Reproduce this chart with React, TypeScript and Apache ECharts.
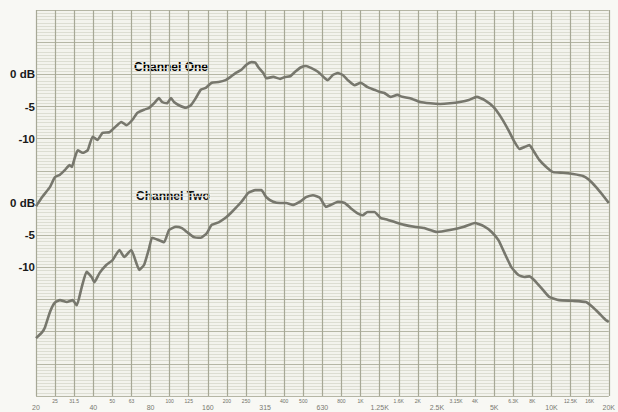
import React, { useEffect, useRef } from 'react';
import * as echarts from 'echarts';

// 1/3-octave band labels (20 Hz .. 20 kHz)
const bandLabels = ['20', '25', '31.5', '40', '50', '63', '80', '100', '125', '160', '200', '250', '315', '400', '500', '630', '800', '1K', '1.25K', '1.6K', '2K', '2.5K', '3.15K', '4K', '5K', '6.3K', '8K', '10K', '12.5K', '16K', '20K'];

// y-axis label positions (chart dB) and texts
const yLabelValues = [0, -5, -10, -20, -25, -30];
const yLabelTexts = ['0 dB', '-5', '-10', '0 dB', '-5', '-10'];

// Channel One: frequency (Hz) and level (dB)
const ch1Freq = [20, 21.5, 23.7, 25.1, 26.7, 28.3, 30.0, 30.8, 31.9, 33.1, 35.1, 37.3, 39.6, 42.0, 44.6, 48.5, 51.5, 56.0, 59.5, 63.9, 67.8, 73.7, 78.3, 83.1, 88.2, 91.5, 97.1, 101.9, 105.6, 112.1, 122.0, 129.5, 137.4, 145.9, 154.9, 166.4, 181.0, 196.8, 209.0, 221.9, 238.4, 253.1, 268.7, 281.9, 292.2, 310.2, 321.6, 349.6, 380.2, 403.7, 428.7, 455.1, 489.0, 519.3, 551.2, 599.4, 651.7, 675.5, 717.2, 761.4, 808.5, 858.3, 933.3, 1003, 1091, 1186, 1259, 1337, 1436, 1562, 1658, 1825, 2057, 2319, 2614, 2946, 3321, 3698, 4069, 4477, 4988, 5488, 5971, 6415, 6810, 7230, 7675, 8149, 8651, 9408, 10231, 11534, 13001, 14657, 15747, 17117, 18618, 20000];
const ch1Db = [-20.5, -19.1, -17.5, -16.0, -15.6, -14.9, -14.1, -14.4, -13.0, -11.8, -12.2, -11.8, -9.7, -10.2, -9.1, -9.0, -8.3, -7.4, -7.9, -7.1, -6.0, -5.5, -5.2, -4.5, -3.7, -4.3, -4.5, -3.7, -4.3, -4.8, -5.2, -4.8, -3.7, -2.4, -2.1, -1.3, -1.2, -0.9, -0.4, 0.2, 0.7, 1.5, 1.9, 1.8, 1.1, 0.2, -0.6, -0.4, -0.7, -0.4, -0.3, 0.4, 1.1, 1.3, 1.0, 0.4, -0.6, -0.9, -0.1, 0.2, -0.1, -0.9, -1.7, -1.3, -2.0, -2.4, -2.7, -2.9, -3.5, -3.2, -3.5, -3.7, -4.3, -4.5, -4.6, -4.5, -4.3, -4.0, -3.5, -4.0, -5.1, -6.8, -8.7, -10.5, -11.6, -11.3, -11.0, -12.1, -13.3, -14.4, -15.2, -15.3, -15.5, -15.8, -16.4, -17.5, -18.8, -20.0];

// Channel Two: frequency (Hz) and level (dB, own scale)
const ch2Freq = [20, 21.5, 22.3, 23.7, 25.1, 26.7, 29.0, 31.1, 32.7, 34.7, 36.8, 39.1, 40.5, 43.0, 46.8, 50.3, 54.7, 58.0, 63.1, 67.0, 69.5, 73.7, 78.3, 81.1, 88.2, 93.7, 99.5, 108.2, 116.2, 123.4, 134.2, 145.9, 156.8, 166.4, 181.0, 196.8, 209.0, 221.9, 238.4, 259.2, 281.9, 302.9, 321.6, 349.6, 380.2, 408.5, 444.3, 483.2, 519.3, 564.6, 613.8, 659.5, 700.2, 761.4, 828.0, 889.7, 967.5, 1027, 1090, 1186, 1274, 1386, 1525, 1698, 1914, 2158, 2521, 2946, 3484, 3973, 4424, 4870, 5296, 5692, 6188, 6728, 7230, 7675, 8149, 8861, 9752, 10995, 13001, 15192, 16513, 17743, 19299, 20000];
const ch2Db = [-21.0, -20.1, -19.3, -16.9, -15.5, -15.1, -15.4, -15.1, -15.9, -13.1, -10.7, -11.5, -12.3, -10.9, -9.6, -8.9, -7.3, -8.4, -7.3, -9.3, -10.4, -9.6, -7.0, -5.4, -5.8, -6.1, -4.2, -3.7, -3.9, -4.5, -5.3, -5.4, -4.7, -3.4, -3.0, -2.3, -1.6, -0.8, 0.2, 1.6, 2.0, 2.0, 0.9, 0.2, 0.0, 0.0, -0.3, 0.2, 0.9, 1.2, 0.8, -0.6, -0.3, 0.2, 0.0, -0.8, -1.6, -1.9, -1.4, -1.4, -2.3, -2.6, -3.0, -3.4, -3.7, -3.9, -4.5, -4.2, -3.7, -3.1, -3.6, -4.5, -5.8, -7.8, -10.0, -11.2, -11.5, -11.4, -12.0, -13.2, -14.6, -15.1, -15.2, -15.4, -16.2, -17.1, -18.2, -18.5];

// Channel Two is plotted 20 dB below Channel One on the chart paper
const ch2Offset = -20;

const curveColor = '#77776d';

export default function App() {
  const ref = useRef<HTMLDivElement>(null);
  useEffect(() => {
    if (!ref.current) return;
    const chart = echarts.init(ref.current, undefined, { renderer: 'svg' });
    const s1 = ch1Freq.map((f, i) => [f, ch1Db[i]]);
    const s2 = ch2Freq.map((f, i) => [f, ch2Db[i] + ch2Offset]);
    const bandAxisBase = {
      type: 'value' as const,
      min: 0,
      max: bandLabels.length - 1,
      interval: 1,
      position: 'bottom' as const,
      axisLine: { show: false },
      axisTick: { show: false },
    };
    chart.setOption({
      animation: false,
      backgroundColor: '#f8f8f4',
      grid: { left: 36, right: 5, top: 10, bottom: 16, show: true, backgroundColor: '#f3f3ed', borderWidth: 0 },
      xAxis: [
        { type: 'log', logBase: 10, min: 20, max: 20000, show: false },
        {
          ...bandAxisBase,
          splitLine: { show: true, lineStyle: { color: '#a7a896', width: 1.2 } },
          axisLabel: {
            margin: 2,
            fontSize: 5,
            color: '#6f6f66',
            fontFamily: 'Liberation Sans',
            formatter: (v: number) => (Math.round(v) % 3 === 0 ? '' : bandLabels[Math.round(v)]),
          },
        },
        {
          ...bandAxisBase,
          splitLine: { show: false },
          axisLabel: {
            margin: 8,
            fontSize: 7,
            color: '#7a7a72',
            fontFamily: 'Liberation Sans',
            formatter: (v: number) => (Math.round(v) % 3 === 0 ? bandLabels[Math.round(v)] : ''),
          },
        },
      ],
      yAxis: {
        type: 'value',
        min: -50,
        max: 10,
        interval: 5,
        axisLine: { show: false },
        axisTick: { show: false },
        minorTick: { show: false, splitNumber: 10 },
        splitLine: { show: true, lineStyle: { color: '#b5b6a5', width: 1 } },
        minorSplitLine: { show: true, lineStyle: { color: '#d6d7ca', width: 0.8 } },
        axisLabel: {
          margin: 1,
          fontSize: 11.5,
          fontWeight: 'bold',
          fontFamily: 'Liberation Sans',
          color: '#1a1a1a',
          formatter: (v: number) => {
            const k = yLabelValues.indexOf(Math.round(v));
            return k >= 0 ? yLabelTexts[k] : '';
          },
        },
      },
      graphic: [
        {
          type: 'text',
          left: 133,
          top: 61,
          style: { text: 'Channel One', font: 'bold 12px "Liberation Sans"', fill: '#000', backgroundColor: '#f6f6f1', padding: [0, 1] },
        },
        {
          type: 'text',
          left: 135,
          top: 190,
          style: { text: 'Channel Two', font: 'bold 12px "Liberation Sans"', fill: '#111', backgroundColor: '#f6f6f1', padding: [0, 1] },
        },
      ],
      series: [
        {
          name: 'Channel One',
          type: 'line',
          xAxisIndex: 0,
          data: s1,
          showSymbol: false,
          smooth: 0.15,
          lineStyle: { color: curveColor, width: 2.6 },
        },
        {
          name: 'Channel Two',
          type: 'line',
          xAxisIndex: 0,
          data: s2,
          showSymbol: false,
          smooth: 0.15,
          lineStyle: { color: curveColor, width: 2.6 },
        },
      ],
    });
    return () => chart.dispose();
  }, []);
  return <div ref={ref} style={{ position: 'fixed', left: 0, top: 0, width: 618, height: 412 }} />;
}
